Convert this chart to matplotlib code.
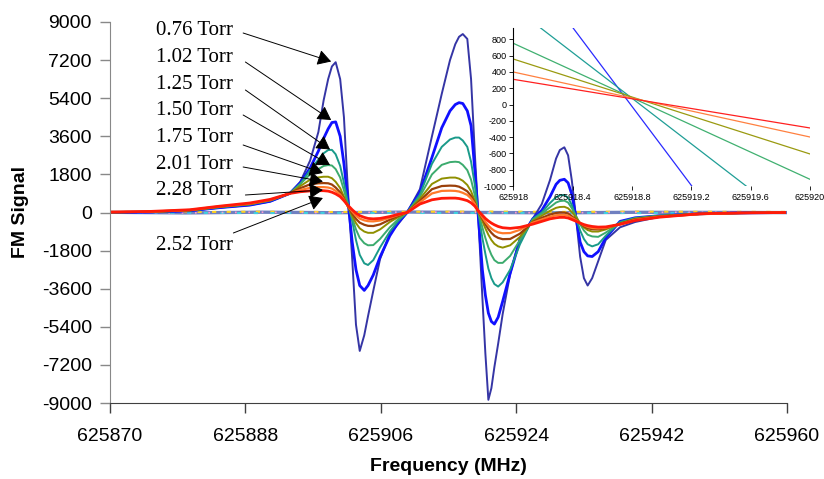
import matplotlib
matplotlib.use("Agg")
import matplotlib.pyplot as plt

plt.rcParams["font.family"] = ["Liberation Sans", "DejaVu Sans"]
plt.rcParams["axes.unicode_minus"] = False

# frequency grid (MHz) shared by all pressure scans
FREQ = [625870.0, 625875.3, 625880.6, 625884.6, 625888.6, 625891.3, 625893.9,
        625895.3, 625896.6, 625897.7, 625898.4, 625899.0, 625899.5, 625900.0,
        625900.6, 625901.1, 625901.6, 625902.2, 625902.7, 625903.2, 625903.8,
        625904.3, 625905.0, 625905.9, 625907.2, 625908.3,
        625909.5,
        625911.2, 625912.8, 625914.1, 625915.2, 625915.9, 625916.4, 625916.9,
        625917.5, 625918.0, 625918.5, 625918.9, 625919.5, 625919.9, 625920.3,
        625920.7, 625921.1, 625921.6, 625922.2, 625923.2, 625924.5,
        625926.2, 625927.4, 625928.5, 625929.3, 625929.8, 625930.4, 625930.9,
        625931.4, 625932.0, 625932.5, 625933.0, 625933.5, 625934.1, 625934.9,
        625935.9, 625937.8, 625939.8, 625943.1, 625948.4, 625953.8, 625959.7]

SIG_076 = [0, 20, 80, 230, 350, 520, 900,
           1450, 2450, 3800, 5300, 6300, 6900, 7100, 6300, 4500, 1200, -2200, -5300,
           -6540, -5800, -4900, -3700, -2200, -1000, -550,
           0,
           1100, 3600, 5600, 7200, 7950, 8300, 8430, 8200, 6300, 2800, 200, -4000,
           -6650, -8850, -8300, -7300, -6200, -4800, -2900, -1200,
           -300, 400, 1540, 2550, 2950, 3080, 2700, 1500, -400, -2090, -3100, -3450,
           -3100, -2300, -1300, -700, -450, -200, -80, -30, 0]
SIG_102 = [0, 20, 80, 230, 350, 530, 900,
           1400, 2100, 2900, 3500, 3950, 4250, 4280, 3600, 2300, 650, -1400, -2700,
           -3450, -3680, -3450, -2950, -2100, -1100, -480,
           0,
           950, 2600, 4000, 4800, 5100, 5190, 5150, 4800, 4100, 2000, 100, -2700,
           -3900, -4750, -5150, -5270, -4950, -4200, -2870, -1300,
           -300, 100, 750, 1330, 1520, 1570, 1400, 850, -350, -1400, -1850, -2050,
           -2080, -1850, -1200, -420, -250, -150, -60, -20, 0]
SIG_125 = [10, 30, 90, 250, 380, 560, 900,
           1350, 2000, 2500, 2800, 2950, 2960, 2750, 2200, 1400, 500, -400, -1300,
           -2000, -2400, -2480, -2250, -1650, -900, -400,
           0,
           850, 2300, 3100, 3450, 3540, 3540, 3400, 3100, 2400, 1300, 150, -1200,
           -1950, -2650, -3100, -3380, -3500, -3300, -2700, -1500,
           -300, 0, 450, 720, 810, 830, 700, 350, -300, -850, -1250, -1500,
           -1600, -1500, -1100, -450, -260, -150, -60, -20, 0]
SIG_150 = [10, 30, 100, 260, 390, 570, 900,
           1350, 1800, 2050, 2200, 2240, 2220, 2050, 1650, 1050, 400, -250, -800,
           -1200, -1450, -1550, -1540, -1250, -700, -320,
           0,
           750, 1800, 2250, 2380, 2400, 2380, 2250, 2000, 1550, 800, 100, -700,
           -1200, -1650, -2000, -2250, -2380, -2380, -2050, -1300,
           -350, -50, 250, 470, 540, 560, 470, 200, -200, -550, -850, -1050,
           -1130, -1150, -950, -500, -280, -150, -60, -20, 0]
SIG_175 = [10, 30, 100, 270, 400, 580, 900,
           1250, 1550, 1660, 1690, 1690, 1620, 1450, 1150, 750, 300, -150, -500,
           -750, -900, -960, -960, -800, -450, -220,
           0,
           650, 1350, 1600, 1650, 1650, 1600, 1500, 1300, 1000, 550, 100, -400,
           -750, -1050, -1300, -1480, -1600, -1660, -1550, -1150,
           -400, -150, 80, 220, 260, 270, 200, 20, -250, -500, -700, -830,
           -900, -900, -800, -520, -300, -170, -70, -25, 0]
SIG_201 = [10, 40, 110, 280, 410, 590, 900,
           1150, 1330, 1380, 1390, 1380, 1320, 1180, 950, 650, 300, -50, -300,
           -480, -580, -630, -640, -560, -340, -160,
           0,
           550, 1100, 1250, 1270, 1260, 1220, 1130, 1000, 780, 450, 100, -280,
           -550, -780, -960, -1100, -1200, -1260, -1250, -1000,
           -450, -250, -100, -20, 0, 0, -50, -180, -350, -520, -650, -740,
           -790, -800, -740, -530, -320, -180, -70, -25, 0]
SIG_228 = [20, 40, 120, 290, 420, 600, 900,
           1060, 1170, 1200, 1200, 1180, 1130, 1020, 850, 600, 320, 50, -150,
           -290, -370, -410, -420, -380, -250, -120,
           0,
           480, 900, 1020, 1030, 1020, 990, 930, 830, 660, 400, 100, -220,
           -440, -620, -760, -860, -940, -980, -970, -820,
           -480, -330, -200, -130, -110, -110, -150, -250, -380, -500, -600, -680,
           -730, -750, -720, -560, -350, -200, -80, -25, 0]
SIG_252 = [20, 50, 130, 300, 450, 620, 900,
           980, 1020, 1030, 1030, 1010, 960, 880, 750, 560, 350, 130, -30,
           -150, -230, -280, -300, -280, -190, -90,
           0,
           400, 600, 670, 680, 680, 660, 620, 560, 460, 300, 100, -130,
           -280, -400, -500, -580, -660, -720, -750, -700,
           -550, -420, -300, -250, -230, -230, -260, -330, -420, -500, -570, -620,
           -660, -690, -680, -560, -380, -220, -60, -20, 0]

# near-zero blank scans forming the baseline
BLANK_FREQ = [625870, 625880, 625890, 625900, 625910, 625920, 625930, 625940, 625950, 625960]
BLANK_A = [10, -20, 15, -10, 20, 0, -15, 10, 5, -5]
BLANK_B = [30, 20, 40, 25, 35, 45, 30, 40, 35, 30]
BLANK_C = [-20, -10, -30, -15, -25, -20, -10, -30, -20, -15]

PRESSURES = ["0.76 Torr", "1.02 Torr", "1.25 Torr", "1.50 Torr",
             "1.75 Torr", "2.01 Torr", "2.28 Torr", "2.52 Torr"]

# inset: zoom on the crossing point near 625918.8 MHz
INSET_FREQ = [625918.0, 625920.0]
INSET_BLUE = [1916, -2932]
INSET_TEAL = [1197, -1603]
INSET_GREEN = [751, -918]
INSET_OLIVE = [558, -607]
INSET_ORANGE = [399, -399]
INSET_RED = [309, -288]

XTICKS = [625870, 625888, 625906, 625924, 625942, 625960]
YTICKS = [-9000, -7200, -5400, -3600, -1800, 0, 1800, 3600, 5400, 7200, 9000]
INSET_XTICKS = [625918.0, 625918.4, 625918.8, 625919.2, 625919.6, 625920.0]
INSET_XLABELS = ["625918", "625918.4", "625918.8", "625919.2", "625919.6", "625920"]
INSET_YTICKS = [-1000, -800, -600, -400, -200, 0, 200, 400, 600, 800]

series = [SIG_076, SIG_102, SIG_125, SIG_150, SIG_175, SIG_201, SIG_228, SIG_252]
colors = ["#3535a5", "#1010ff", "#1a9a8a", "#3cab6e", "#8f8f00", "#9a3f0a", "#ff7a2a", "#ff1a0a"]
widths = [1.4, 2.0, 1.4, 1.4, 1.4, 1.6, 1.6, 2.0]

# label text anchor, arrow start and arrow tip (data coordinates)
label_xy = [(625876.1, 8621), (625876.1, 7332), (625876.1, 6070), (625876.1, 4809),
            (625876.1, 3552), (625876.1, 2291), (625876.1, 1030), (625876.1, -1568)]
arrow_from = [(625887.7, 8480), (625888.0, 7110), (625888.0, 5787), (625887.7, 4606),
              (625887.7, 3189), (625887.7, 2150), (625888.0, 827), (625886.4, -968)]
arrow_to = [(625899.4, 7133), (625899.4, 4370), (625899.25, 2976), (625899.25, 2244),
            (625898.3, 1866), (625898.3, 1464), (625898.3, 1063), (625898.3, 685)]

fig = plt.figure(figsize=(8.24, 4.79), dpi=100, facecolor="white")
ax = fig.add_axes([110 / 824, 1 - 403 / 479, 677 / 824, 381 / 479])

# baseline blanks
ax.plot(BLANK_FREQ, BLANK_A, color="#7080c0", lw=2.4, zorder=1)
ax.plot(BLANK_FREQ, BLANK_B, color="#ffd21f", lw=1.5, ls=(0, (2, 5)), zorder=1)
ax.plot(BLANK_FREQ, BLANK_C, color="#40d0e0", lw=1.5, ls=(3, (2, 6)), zorder=1)
ax.plot(BLANK_FREQ, BLANK_A, color="#ff9ad0", lw=1.2, ls=(5, (1, 7)), zorder=1)

for sig, c, w in zip(series, colors, widths):
    ax.plot(FREQ, sig, color=c, lw=w, zorder=2)

ax.set_xlim(625870, 625960)
ax.set_ylim(-9000, 9000)
ax.set_xticks(XTICKS)
ax.set_xticklabels([str(t) for t in XTICKS])
ax.set_yticks(YTICKS)
ax.set_yticklabels([str(t) for t in YTICKS])
for side in ("top", "right"):
    ax.spines[side].set_visible(False)
ax.spines["left"].set_color("#888888")
ax.spines["bottom"].set_color("#404040")
ax.tick_params(axis="y", length=7, width=1, color="#888888", pad=6, labelsize=14)
ax.tick_params(axis="x", length=7, width=1, color="#404040", pad=11, labelsize=14)
ax.patch.set_alpha(0)

for lab, txy, a0, a1 in zip(PRESSURES, label_xy, arrow_from, arrow_to):
    ax.text(txy[0], txy[1], lab, ha="left", va="center", fontsize=15,
            family=["Liberation Serif", "DejaVu Serif"], zorder=5)
    ax.annotate("", xy=a1, xytext=a0,
                arrowprops=dict(arrowstyle="-|>,head_length=0.55,head_width=0.32",
                                color="black", lw=0.7, mutation_scale=15,
                                shrinkA=0, shrinkB=0),
                zorder=5)

fig.text(20.5 / 824, 1 - 212 / 479, "FM Signal", rotation=90, ha="center",
         va="center", fontsize=14, fontweight="bold")
fig.text(448.5 / 824, 1 - 466.5 / 479, "Frequency (MHz)", ha="center",
         va="center", fontsize=14, fontweight="bold")

# inset
axi = fig.add_axes([513.3 / 824, 1 - 186 / 479, 296.7 / 824, 157.7 / 479])
axi.patch.set_alpha(0)
axi.plot(INSET_FREQ, INSET_BLUE, color="#2a2aff", lw=0.9)
axi.plot(INSET_FREQ, INSET_TEAL, color="#1f9e96", lw=0.9)
axi.plot(INSET_FREQ, INSET_GREEN, color="#40b070", lw=0.9)
axi.plot(INSET_FREQ, INSET_OLIVE, color="#9a9a10", lw=0.9)
axi.plot(INSET_FREQ, INSET_ORANGE, color="#ff8040", lw=0.9)
axi.plot(INSET_FREQ, INSET_RED, color="#ff2020", lw=0.9)
axi.set_xlim(625918.0, 625920.0)
axi.set_ylim(-1000, 935)
axi.set_xticks(INSET_XTICKS)
axi.set_xticklabels(INSET_XLABELS)
axi.set_yticks(INSET_YTICKS)
axi.set_yticklabels([str(t) for t in INSET_YTICKS])
for side in ("top", "right", "bottom"):
    axi.spines[side].set_visible(False)
axi.spines["left"].set_color("black")
axi.spines["left"].set_linewidth(0.8)
axi.tick_params(axis="both", length=3, width=0.6, labelsize=6.5, pad=2)
for lab in axi.get_xticklabels() + axi.get_yticklabels():
    lab.set_family(["Liberation Sans", "DejaVu Sans"])

fig.savefig("out.png", dpi=100, facecolor="white")
